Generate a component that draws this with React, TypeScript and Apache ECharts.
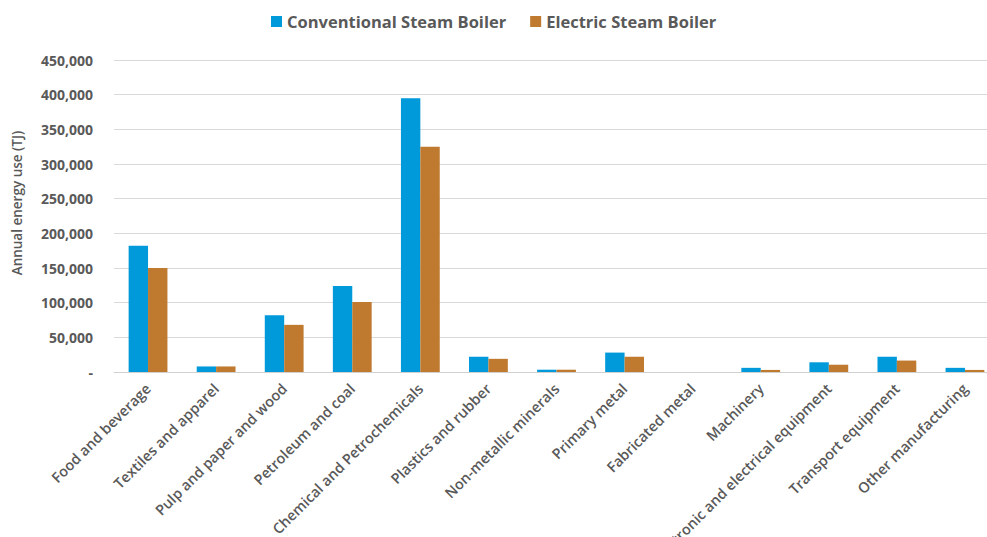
import React, { useEffect, useRef } from "react";
import * as echarts from "echarts";

const categories = [
  "Food and beverage",
  "Textiles and apparel",
  "Pulp and paper and wood",
  "Petroleum and coal",
  "Chemical and Petrochemicals",
  "Plastics and rubber",
  "Non-metallic minerals",
  "Primary metal",
  "Fabricated metal",
  "Machinery",
  "Electronic and electrical equipment",
  "Transport equipment",
  "Other manufacturing",
];

const conventional = [182000, 8000, 82000, 124000, 395000, 22000, 3300, 28000, 0, 6000, 14000, 22000, 6000];
const electric = [150000, 8000, 68000, 101000, 325000, 19000, 3300, 22000, 0, 3000, 10500, 16500, 3000];

const seriesNames = ["Conventional Steam Boiler", "Electric Steam Boiler"];
const colors = ["#0099DA", "#BF7A30"];

export default function App() {
  const ref = useRef<HTMLDivElement>(null);
  useEffect(() => {
    if (!ref.current) return;
    const chart = echarts.init(ref.current, undefined, { renderer: "svg" });
    const font = "'Open Sans', 'Noto Sans', sans-serif";
    chart.setOption({
      animation: false,
      textStyle: { fontFamily: font },
      legend: {
        top: 8,
        left: 266,
        itemWidth: 11,
        itemHeight: 11,
        itemGap: 24,
        icon: "rect",
        textStyle: { fontSize: 16.5, fontWeight: 700, color: "#595959", fontFamily: font },
        data: seriesNames,
      },
      grid: {
        left: 114,
        top: 60,
        width: 885,
        height: 312,
        containLabel: false,
        outerBoundsMode: "none",
      },
      xAxis: {
        type: "category",
        data: categories,
        axisTick: { show: false },
        axisLine: { lineStyle: { color: "#d0d0d0", width: 1 } },
        axisLabel: {
          rotate: 45,
          interval: 0,
          fontSize: 14.5,
          fontWeight: 600,
          color: "#595959",
          fontFamily: font,
          margin: 14,
        },
      },
      yAxis: {
        type: "value",
        min: 0,
        max: 450000,
        interval: 50000,
        name: "Annual energy use (TJ)",
        nameLocation: "middle",
        nameGap: 90,
        nameTextStyle: {
          fontSize: 13.5,
          fontWeight: 600,
          color: "#595959",
          fontFamily: font,
          padding: [0, 0, 0, 26],
        },
        axisLine: { show: false },
        axisTick: { show: false },
        splitLine: { lineStyle: { color: "#d9d9d9", width: 1 } },
        axisLabel: {
          fontSize: 14,
          fontWeight: 700,
          color: "#595959",
          fontFamily: font,
          margin: 21,
          formatter: (v: number) => (v === 0 ? "-" : v.toLocaleString("en-US")),
        },
      },
      series: [
        {
          name: seriesNames[0],
          type: "bar",
          data: conventional,
          itemStyle: { color: colors[0] },
          barGap: "0%",
          barCategoryGap: "43%",
        },
        {
          name: seriesNames[1],
          type: "bar",
          data: electric,
          itemStyle: { color: colors[1] },
          barGap: "0%",
          barCategoryGap: "43%",
        },
      ],
    });
    return () => chart.dispose();
  }, []);
  return (
    <div
      ref={ref}
      style={{ position: "fixed", left: 0, top: 0, width: 987, height: 537, background: "#fff" }}
    />
  );
}
